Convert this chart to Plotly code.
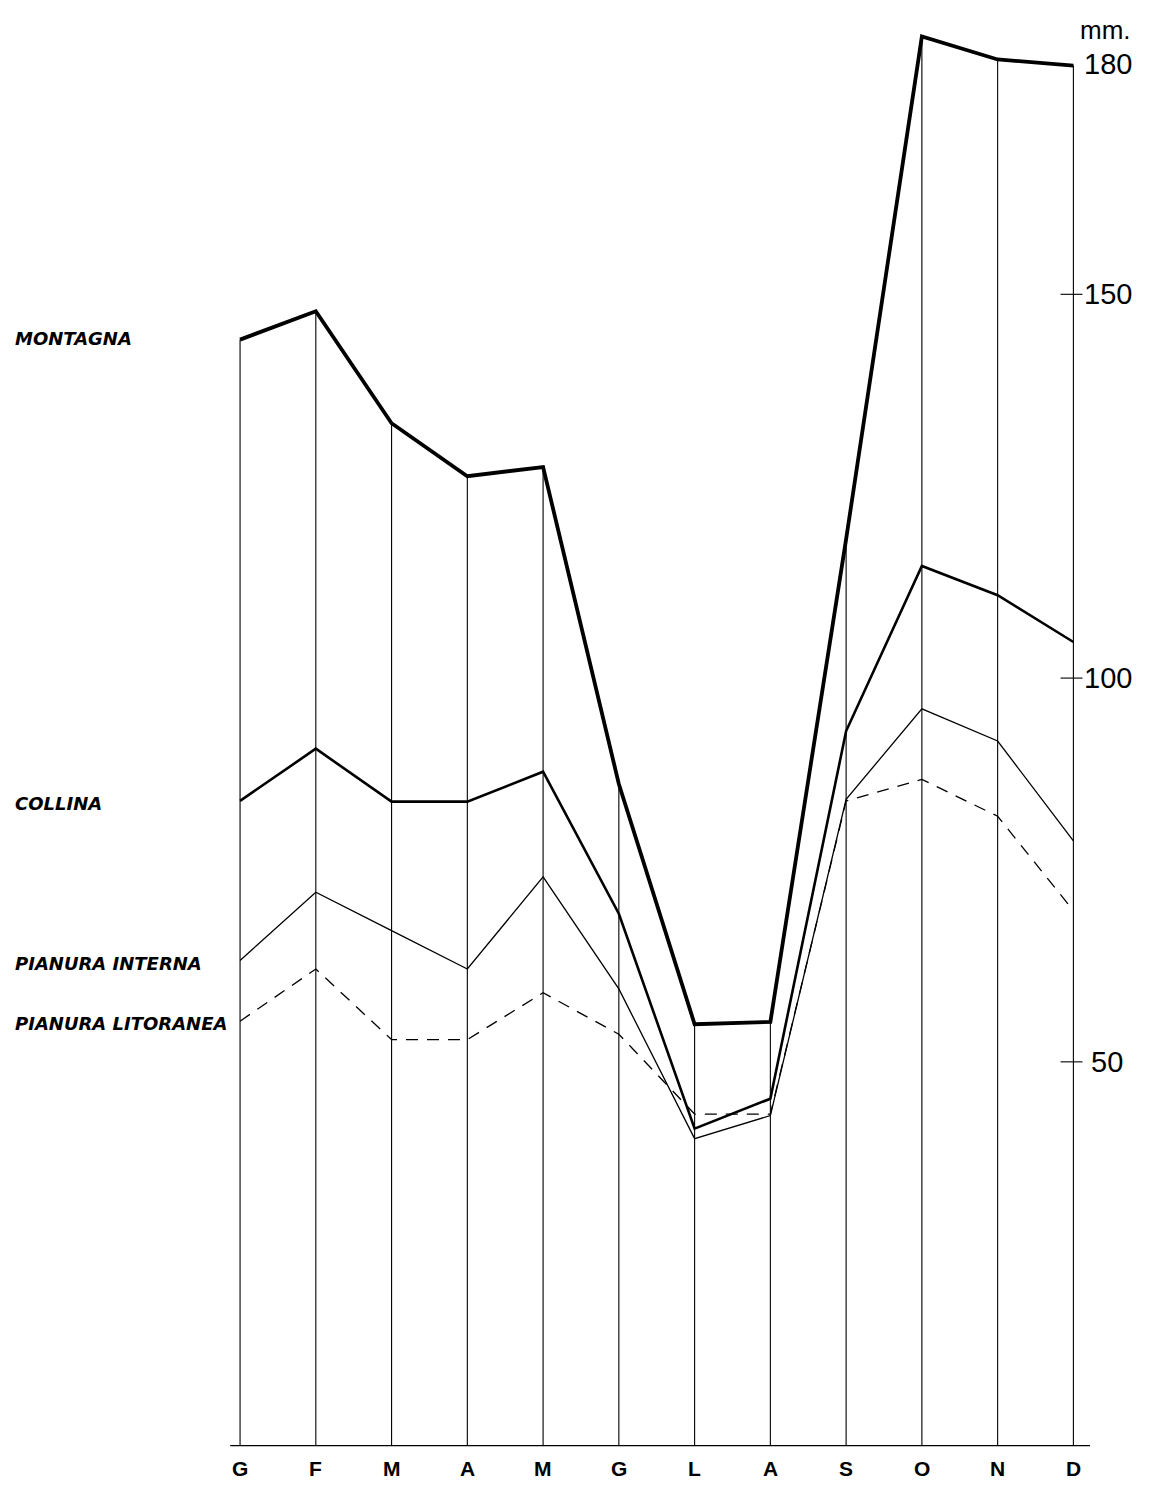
import plotly.graph_objects as go

months = ["G", "F", "M", "A", "M", "G", "L", "A", "S", "O", "N", "D"]
montagna = [144.1, 147.8, 133.2, 126.3, 127.5, 86.2, 54.9, 55.2, 118.1, 183.6, 180.6, 179.8]
collina = [84.0, 90.8, 83.9, 83.9, 87.8, 69.3, 41.3, 45.2, 93.1, 114.6, 110.8, 104.7]
pianura_interna = [63.2, 72.1, 67.1, 62.1, 74.1, 59.5, 40.0, 43.0, 84.2, 96.0, 91.8, 78.8]
pianura_litoranea = [55.3, 62.1, 52.9, 52.9, 59.0, 53.6, 43.2, 43.2, 84.0, 86.8, 82.0, 69.7]
series_names = ["MONTAGNA", "COLLINA", "PIANURA INTERNA", "PIANURA LITORANEA"]
label_y = [144.3, 83.7, 62.8, 55.0]
y_ticks = [50, 100, 150, 180]

x = list(range(len(months)))
fig = go.Figure()

# vertical month lines from the baseline up to the mountain curve
for i, v in zip(x, montagna):
    fig.add_trace(go.Scatter(x=[i, i], y=[0, v], mode="lines",
                             line=dict(color="black", width=1.1),
                             hoverinfo="skip", showlegend=False))

# baseline
fig.add_trace(go.Scatter(x=[-0.13, 11.22], y=[0, 0], mode="lines",
                         line=dict(color="black", width=1.3),
                         hoverinfo="skip", showlegend=False))

styles = [dict(width=3.8, dash="solid"), dict(width=2.6, dash="solid"),
          dict(width=1.3, dash="solid"), dict(width=1.3, dash="12px,9px")]
for name, vals, st in zip(series_names, [montagna, collina, pianura_interna, pianura_litoranea], styles):
    fig.add_trace(go.Scatter(x=x, y=vals, mode="lines", name=name,
                             line=dict(color="black", width=st["width"], dash=st["dash"]),
                             showlegend=False))

# right-side ticks
for t in y_ticks[:3]:
    fig.add_trace(go.Scatter(x=[10.83, 11.12], y=[t, t], mode="lines",
                             line=dict(color="black", width=1.1),
                             hoverinfo="skip", showlegend=False))

annotations = []
for name, yy in zip(series_names, label_y):
    annotations.append(dict(x=-3.0, y=yy, text="<b><i>" + name + "</i></b>", showarrow=False,
                            xanchor="left", yanchor="middle",
                            font=dict(family="DejaVu Sans", size=18, color="black")))
for i, m in zip(x, months):
    annotations.append(dict(x=i, y=-3.0, text="<b>" + m + "</b>", showarrow=False,
                            xanchor="center", yanchor="middle",
                            font=dict(family="Liberation Sans", size=21, color="black")))
tick_x = {50: 11.2, 100: 11.12, 150: 11.12, 180: 11.12}
for t in y_ticks:
    annotations.append(dict(x=tick_x[t], y=t, text=str(t), showarrow=False,
                            xanchor="left", yanchor="middle",
                            font=dict(family="Liberation Sans", size=29, color="black")))
annotations.append(dict(x=11.43, y=184.4, text="mm.", showarrow=False,
                        xanchor="center", yanchor="middle",
                        font=dict(family="Liberation Sans", size=26, color="black")))

fig.update_layout(
    width=1138, height=1476,
    margin=dict(l=1, r=12, t=10, b=0),
    plot_bgcolor="white", paper_bgcolor="white",
    annotations=annotations,
    xaxis=dict(range=[-3.05, 11.8], visible=False),
    yaxis=dict(range=[-5, 186], visible=False),
)

fig.write_html("out.html")
